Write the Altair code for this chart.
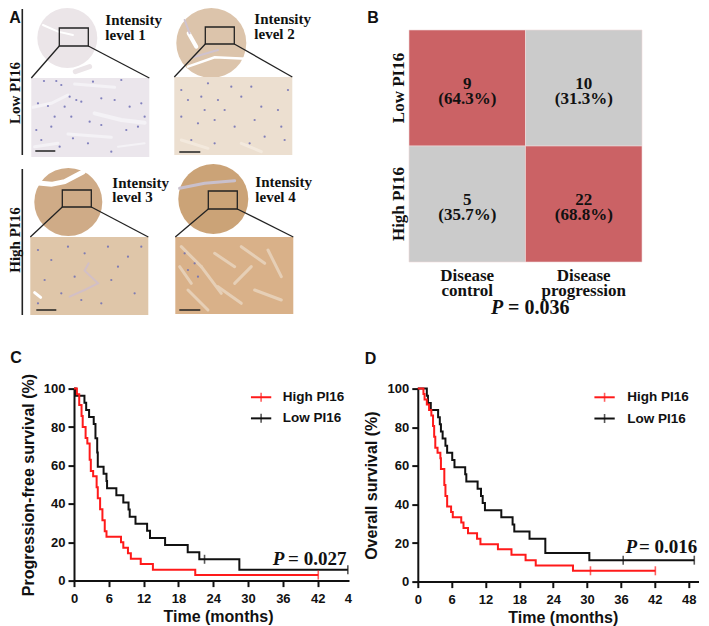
import altair as alt
import pandas as pd

SANS = "Liberation Sans"
SERIF = "Liberation Serif"
RED = "#ff1a1a"
BLACK = "#111111"

# ---- Panel A: schematic of the tissue core figures, in picture pixels
core_x = [66, 210, 67, 212]
core_y = [38, 43, 202, 199]
core_r = [30, 35, 34, 35]
core_fill = ["#ebe5e8", "#dcc4ab", "#cfab87", "#cba377"]
box_l = [58, 204, 61, 207]
box_r = [87, 233, 90, 236]
box_t = [28, 27, 190, 191]
box_b = [46, 44, 207, 209]
zoom_l = [30, 173, 29, 174]
zoom_r = [148, 291, 147, 292]
zoom_t = [78, 77, 237, 237]
zoom_b = [157, 155, 315, 314]
zoom_fill = ["#ebe6ec", "#ecdfd0", "#dfc6a9", "#d9b189"]
bar_l = [34, 178, 35, 178]
bar_r = [54, 199, 55, 199]
bar_y = [151, 152, 310, 310]
label_x = [104, 253, 111, 254]
label_y1 = [25, 24, 188, 187]
label_y2 = [40, 39, 202, 202]
label_l1 = ["Intensity"] * 4
label_l2 = ["level 1", "level 2", "level 3", "level 4"]
side_y1 = [9, 169]
side_y2 = [155, 315]
side_text = ["Low PI16", "High PI16"]
side_text_y = [93, 240]
letter_x = [8, 366]
letter_y = [23, 23]
letter_t = ["A", "B"]

core_strokes = [
    ("#ffffff", 2, [(125, 75), (170, 95), (215, 105)]),
    ("#ebe5e8", 5, [(222, 215), (265, 200)]),
    ("#ffffff", 4, [(562, 100), (585, 140)]),
    ("#cfc3cf", 2, [(550, 60), (565, 100)]),
    ("#ffffff", 2.5, [(560, 200), (640, 172), (735, 176)]),
    ("#cfc3cf", 2, [(575, 172), (650, 150)]),
    ("#ffffff", 5, [(104, 548), (150, 553), (190, 545), (245, 516)]),
    ("#ffffff", 6, [(112, 520), (140, 500)]),
    ("#c9c0cc", 3, [(535, 565), (610, 550), (700, 542)]),
]
zoom_strokes = [
    ("#f4f2f6", 3, [(95, 322), (150, 310), (200, 285)]),
    ("#f4f2f6", 3, [(220, 252), (340, 262)]),
    ("#f4f2f6", 4, [(280, 340), (360, 360), (430, 368)]),
    ("#f4f2f6", 3, [(200, 402), (330, 412)]),
    ("#f4f2f6", 3, [(100, 440), (170, 430)]),
    ("#f4f2f6", 2, [(350, 440), (430, 430)]),
    ("#f3e9dd", 3, [(540, 420), (620, 445)]),
    ("#f3e9dd", 3, [(720, 430), (780, 455)]),
    ("#d2bfc6", 2, [(262, 790), (250, 812), (290, 850), (250, 870), (205, 890)]),
    ("#ffffff", 3, [(100, 878), (118, 892)]),
    ("#e6cfb6", 3, [(540, 740), (600, 800)]),
    ("#e6cfb6", 3, [(560, 870), (620, 930)]),
    ("#e6cfb6", 3, [(640, 760), (700, 800)]),
    ("#e6cfb6", 3, [(720, 740), (790, 790)]),
    ("#e6cfb6", 3, [(800, 750), (840, 830)]),
    ("#e6cfb6", 3, [(650, 860), (720, 910)]),
    ("#e6cfb6", 3, [(760, 870), (840, 900)]),
    ("#e6cfb6", 3, [(600, 800), (660, 880)]),
    ("#e6cfb6", 3, [(750, 800), (700, 850)]),
    ("#e6cfb6", 3, [(535, 800), (570, 850)]),
]
nuclei_x = [128, 165, 180, 205, 225, 110, 140, 190, 240, 300, 340, 385, 420, 105, 150, 210, 265, 300, 375, 410, 120, 175,
            260, 330, 430, 360, 275, 215, 160,
            560, 600, 650, 720, 780, 830, 540, 590, 640, 700, 760, 840, 570, 640, 745, 790, 850, 620, 690, 750, 540, 860,
            670, 610,
            110, 150, 200, 250, 320, 380, 420, 130, 180, 240, 330, 400, 350, 220, 110, 300,
            550, 580, 590, 560]
nuclei_y = [243, 243, 255, 290, 300, 310, 318, 320, 305, 295, 300, 320, 310, 390, 380, 350, 365, 375, 390, 380, 420, 440,
            430, 455, 350, 240, 245, 415, 350,
            300, 290, 300, 290, 320, 330, 350, 370, 360, 380, 360, 380, 420, 430, 430, 410, 420, 250, 260, 260, 270, 270,
            330, 330,
            750, 780, 740, 760, 740, 770, 740, 840, 880, 900, 840, 880, 800, 830, 910, 910,
            760, 790, 830, 810]

AW, AH = 313.1, 285
A_X0, A_Y0 = 72.7, 30
ax = alt.X("x:Q", scale=alt.Scale(domain=[A_X0, A_X0 + AW]), axis=None)
ay = alt.Y("y:Q", scale=alt.Scale(domain=[A_Y0 + AH, A_Y0]), axis=None)


def pts(r, xs, ys, fills):
    d = pd.DataFrame({"x": xs, "y": ys, "c": fills, "s": [4 * q * q for q in r]})
    return alt.Chart(d).mark_point(filled=True, opacity=1).encode(
        x=ax, y=ay, size=alt.Size("s:Q", scale=None), color=alt.Color("c:N", scale=None))


def strokes(items):
    rows_ = []
    for k, (c, w, p) in enumerate(items):
        for o, (px, py) in enumerate(p):
            rows_.append({"x": px / 3, "y": py / 3, "k": k, "o": o, "c": c, "w": w})
    return alt.Chart(pd.DataFrame(rows_)).mark_line(strokeCap="round").encode(
        x=ax, y=ay, detail="k:N", order="o:Q", color=alt.Color("c:N", scale=None),
        strokeWidth=alt.StrokeWidth("w:Q", scale=None))


cores = pts(core_r, core_x, core_y, core_fill)
zoom_df = pd.DataFrame({"x": zoom_l, "x2": zoom_r, "y": zoom_t, "y2": zoom_b, "c": zoom_fill})
zooms = alt.Chart(zoom_df).mark_rect().encode(
    x=ax, x2="x2:Q", y=ay, y2="y2:Q", color=alt.Color("c:N", scale=None))
nuclei = alt.Chart(pd.DataFrame({"x": [v / 3 for v in nuclei_x], "y": [v / 3 for v in nuclei_y]})).mark_circle(
    size=5, color="#6f6fb5", opacity=0.85).encode(x=ax, y=ay)
box_df = pd.DataFrame({"x": box_l, "x2": box_r, "y": box_t, "y2": box_b})
boxes = alt.Chart(box_df).mark_rect(fillOpacity=0, stroke="#222222", strokeWidth=1.3).encode(
    x=ax, x2="x2:Q", y=ay, y2="y2:Q")
link_rows = []
for i in range(4):
    link_rows.append({"x": box_l[i], "x2": zoom_l[i], "y": box_b[i], "y2": zoom_t[i]})
    link_rows.append({"x": box_r[i], "x2": zoom_r[i], "y": box_b[i], "y2": zoom_t[i]})
links = alt.Chart(pd.DataFrame(link_rows)).mark_rule(color="#222222", strokeWidth=1.3).encode(
    x=ax, x2="x2:Q", y=ay, y2="y2:Q")
bar_df = pd.DataFrame({"x": bar_l, "x2": bar_r, "y": bar_y})
bars = alt.Chart(bar_df).mark_rule(color="#222222", strokeWidth=1.5).encode(x=ax, x2="x2:Q", y=ay)
side_df = pd.DataFrame({"x": [21, 21], "y": side_y1, "y2": side_y2})
sides = alt.Chart(side_df).mark_rule(color="#222222", strokeWidth=1.6).encode(x=ax, y=ay, y2="y2:Q")


def serif_text(xs, ys, ts, size=15, **kw):
    d = pd.DataFrame({"x": xs, "y": ys, "t": ts})
    return alt.Chart(d).mark_text(font=SERIF, fontWeight="bold", fontSize=size, color="#111111",
                                  align=kw.pop("align", "left"), baseline=kw.pop("baseline", "alphabetic"),
                                  **kw).encode(x=ax, y=ay, text="t:N")


panel_a = alt.layer(
    cores, strokes(core_strokes), zooms, strokes(zoom_strokes), nuclei, links, boxes, bars, sides,
    serif_text(label_x, label_y1, label_l1),
    serif_text(label_x, label_y2, label_l2),
    serif_text([14, 14], side_text_y, side_text, size=15, angle=270, align="center", baseline="middle"),
    alt.Chart(pd.DataFrame({"x": letter_x, "y": letter_y, "t": letter_t})).mark_text(
        font=SANS, fontWeight="bold", fontSize=16, align="left", baseline="alphabetic", color="#111111"
    ).encode(x=ax, y=ay, text="t:N"),
).properties(width=AW, height=AH)

# ---- Panel B
cols = ["Disease|control", "Disease|progression"]
rows = ["Low PI16", "High PI16"]
counts = [9, 10, 5, 22]
pcts = ["64.3", "31.3", "35.7", "68.8"]
cell_fill = ["#cb6265", "#cbcbcb", "#cbcbcb", "#cb6265"]
b_df = pd.DataFrame({
    "col": [cols[0], cols[1], cols[0], cols[1]],
    "row": [rows[0], rows[0], rows[1], rows[1]],
    "fill": cell_fill,
    "label": [f"{n}\n({p}%)" for n, p in zip(counts, pcts)],
})
bx = alt.X("col:N", sort=cols, title=None, scale=alt.Scale(paddingInner=0, paddingOuter=0),
           axis=alt.Axis(labelExpr="split(datum.value,'|')", labelAngle=0, labelFont=SERIF, labelFontWeight="bold",
                         labelFontSize=17, labelColor="#111111", labelLineHeight=15, domain=False, ticks=False,
                         labelPadding=5, labelBaseline="top"))
by = alt.Y("row:N", sort=rows, title=None, scale=alt.Scale(paddingInner=0, paddingOuter=0),
           axis=alt.Axis(labelAngle=270, labelAlign="center", labelBaseline="bottom", labelFont=SERIF,
                         labelFontWeight="bold", labelFontSize=17, labelColor="#111111", domain=False, ticks=False,
                         labelPadding=2))
cells = alt.Chart(b_df).mark_rect(stroke="#f0dada", strokeWidth=0.6).encode(
    x=bx, y=by, color=alt.Color("fill:N", scale=None))
cell_text = alt.Chart(b_df).mark_text(font=SERIF, fontWeight="bold", fontSize=17, lineBreak="\n", lineHeight=15,
                                      color="#111111", dy=-4).encode(x=bx, y=by, text="label:N")
p_b1 = alt.Chart(pd.DataFrame({"a": [1]})).mark_text(
    text="P", font=SERIF, fontWeight="bold", fontStyle="italic", fontSize=20, align="left", baseline="alphabetic",
    color="#111111").encode(x=alt.value(82), y=alt.value(284))
p_b2 = alt.Chart(pd.DataFrame({"a": [1]})).mark_text(
    text="= 0.036", font=SERIF, fontWeight="bold", fontSize=20, align="left", baseline="alphabetic",
    color="#111111").encode(x=alt.value(99), y=alt.value(284))
panel_b = alt.layer(cells, cell_text, p_b1, p_b2).properties(width=233, height=232)

# ---- Panels C, D: survival curves
c_high_t = [0, 0.5, 0.9, 1.3, 1.5, 2.0, 2.3, 2.7, 2.9, 3.3, 3.9, 4.1, 4.5, 4.9, 5.3, 5.6, 8.1, 8.5, 9.3, 9.8, 11.5, 13.6, 20.9, 42.1]
c_high_s = [100, 97.1, 91.4, 85.7, 80, 74.3, 71.4, 62.9, 57.1, 54.3, 48.6, 42.9, 37.1, 31.4, 25.7, 22.9, 20, 17.1, 14.3, 11.4, 8.6, 5.7, 2.9, 2.9]
c_low_t = [0, 0.3, 1.8, 2.1, 2.6, 3.4, 3.7, 4.0, 4.1, 5.1, 5.6, 5.7, 7.3, 8.5, 9.4, 9.6, 10.6, 12.6, 13.1, 15.7, 19.6, 21.6, 28.5, 47.2]
c_low_s = [100, 96.3, 92.6, 88.9, 85.2, 81.5, 74.1, 66.7, 59.3, 55.6, 51.9, 48.1, 44.4, 40.7, 37, 33.3, 29.6, 25.9, 22.2, 18.5, 14.8, 11.1, 5.6, 5.6]
d_high_t = [0, 1.0, 1.2, 1.6, 2.0, 2.4, 2.7, 2.9, 3.1, 3.5, 4.0, 4.1, 4.7, 4.9, 5.2, 5.9, 6.2, 7.7, 8.1, 8.9, 10.5, 11.1, 14.2, 16.6, 19.1, 20.9, 27.5, 42.1]
d_high_s = [100, 97.2, 94.4, 91.7, 88.9, 86.1, 80.6, 75, 69.4, 66.7, 63.9, 58.3, 50, 44.4, 38.9, 36.1, 33.3, 30.6, 27.8, 25, 22.2, 19.4, 16.7, 13.9, 11.1, 8.3, 5.6, 5.6]
d_low_t = [0, 1.6, 1.8, 2.3, 3.6, 3.9, 4.1, 4.4, 4.9, 5.2, 6.1, 6.5, 8.4, 8.6, 10.6, 11.2, 11.5, 11.9, 14.8, 16.8, 17.1, 19.8, 22.6, 30.4, 32.4, 49.0]
d_low_s = [100, 96.3, 92.6, 88.9, 85.2, 81.5, 77.8, 74.1, 70.4, 66.7, 63, 59.3, 55.6, 51.9, 48.1, 44.4, 40.7, 37, 33.3, 29.6, 25.9, 22.2, 14.8, 11.1, 11.1, 11.1]
c_low_cens = ([22.5, 47.2], [11.1, 5.6])
c_high_cens = ([42.1], [2.9])
d_low_cens = ([36.4, 49.0], [11.1, 11.1])
d_high_cens = ([30.6, 42.1], [5.6, 5.6])
ticks_x = [0, 6, 12, 18, 24, 30, 36, 42, 48]
ticks_y = [0, 20, 40, 60, 80, 100]
legend_names = ["High PI16", "Low PI16"]


def km(x_max, w, h, low, high, low_c, high_c, ytitle, tvals, leg_x, leg_y, ptxt, p_xy, letter, let_x, let_y,
       title_x, title_pad, cut=None):
    sx = alt.Scale(domain=[0, x_max], nice=False)
    sy = alt.Scale(domain=[0, 100], nice=False)
    axx = alt.Axis(values=tvals, title="Time (months)", grid=False, domainWidth=2, domainColor=BLACK, tickWidth=2,
                   tickColor=BLACK, tickSize=6, labelFont=SANS, labelFontWeight="bold", labelFontSize=13,
                   labelColor=BLACK, titleFont=SANS, titleFontWeight="bold", titleFontSize=16, titleColor=BLACK,
                   labelPadding=6, titlePadding=3, titleX=title_x, labelFlush=False, labelOverlap=False)
    axy = alt.Axis(values=ticks_y, title=ytitle, grid=False, domainWidth=2, domainColor=BLACK, tickWidth=2,
                   tickColor=BLACK, tickSize=6, labelFont=SANS, labelFontWeight="bold", labelFontSize=13,
                   labelColor=BLACK, titleFont=SANS, titleFontWeight="bold", titleFontSize=16, titleColor=BLACK,
                   labelPadding=3, titlePadding=title_pad, labelFlush=False)
    X = alt.X("t:Q", scale=sx, axis=axx)
    Y = alt.Y("s:Q", scale=sy, axis=axy)

    def line(tt, ss, col):
        return alt.Chart(pd.DataFrame({"t": tt, "s": ss})).mark_line(
            interpolate="step-after", color=col, strokeWidth=2, clip=False).encode(x=X, y=Y)

    def cens(cc, col):
        return alt.Chart(pd.DataFrame({"t": cc[0], "s": cc[1]})).mark_tick(
            orient="vertical", color=col, size=9, thickness=1.6).encode(x=X, y=Y)

    leg_df = pd.DataFrame({"t": [leg_x[0]] * 2, "t2": [leg_x[1]] * 2, "s": leg_y, "c": [RED, BLACK],
                           "m": [(leg_x[0] + leg_x[1]) / 2] * 2, "lx": [leg_x[2]] * 2, "n": legend_names})
    leg_lines = alt.Chart(leg_df).mark_rule(strokeWidth=2).encode(
        x=X, x2="t2:Q", y=Y, color=alt.Color("c:N", scale=None))
    leg_ticks = alt.Chart(leg_df).mark_tick(orient="vertical", size=9, thickness=1.6).encode(
        x=alt.X("m:Q", scale=sx, axis=axx), y=Y, color=alt.Color("c:N", scale=None))
    leg_text = alt.Chart(leg_df).mark_text(font=SANS, fontWeight="bold", fontSize=13.5, align="left",
                                           baseline="middle", color=BLACK).encode(
        x=alt.X("lx:Q", scale=sx, axis=axx), y=Y, text="n:N")
    p1 = alt.Chart(pd.DataFrame({"t": [p_xy[0]], "s": [p_xy[2]]})).mark_text(
        text="P", font=SERIF, fontWeight="bold", fontStyle="italic", fontSize=19, align="left",
        baseline="alphabetic", color=BLACK).encode(x=X, y=Y)
    p2 = alt.Chart(pd.DataFrame({"t": [p_xy[1]], "s": [p_xy[2]]})).mark_text(
        text=ptxt, font=SERIF, fontWeight="bold", fontSize=19, align="left",
        baseline="alphabetic", color=BLACK).encode(x=X, y=Y)
    let = alt.Chart(pd.DataFrame({"a": [1]})).mark_text(
        text=letter, font=SANS, fontWeight="bold", fontSize=16, align="left", baseline="alphabetic",
        color=BLACK).encode(x=alt.value(let_x), y=alt.value(let_y))
    layers = [line(*low, BLACK), line(*high, RED), cens(low_c, BLACK), cens(high_c, RED),
              leg_lines, leg_ticks, leg_text, p1, p2, let]
    if cut is not None:
        layers.append(alt.Chart(pd.DataFrame({"t": [cut]})).mark_text(
            text="4", font=SANS, fontWeight="bold", fontSize=13, color=BLACK, baseline="top", align="center"
        ).encode(x=X, y=alt.value(h + 12)))
    return alt.layer(*layers).properties(width=w, height=h)


panel_c = km(47.4, 275, 192, (c_low_t, c_low_s), (c_high_t, c_high_s), c_low_cens, c_high_cens,
             "Progression-free survival (%)", ticks_x[:-1], (30.5, 34, 36), (95.5, 84.5),
             "= 0.027", (34.25, 36.9, 8.3), "C", -63.7, -26, 144, 7, cut=47.3)

panel_d = km(49.8, 281, 193, (d_low_t, d_low_s), (d_high_t, d_high_s), d_low_cens, d_high_cens,
             "Overall survival (%)", ticks_x, (31.3, 34.9, 37.1), (95.5, 84.5),
             "= 0.016", (36.8, 39.2, 15), "D", -53, -25, 145, 8)

top = alt.hconcat(panel_a, panel_b, spacing=0)
bottom = alt.hconcat(panel_c, panel_d, spacing=9.8)
chart = alt.vconcat(top, bottom, spacing=31.6).properties(padding=0).configure_view(stroke=None).configure_concat(spacing=0)
chart.save("out.html", embed_options={"renderer": "svg", "actions": False})
